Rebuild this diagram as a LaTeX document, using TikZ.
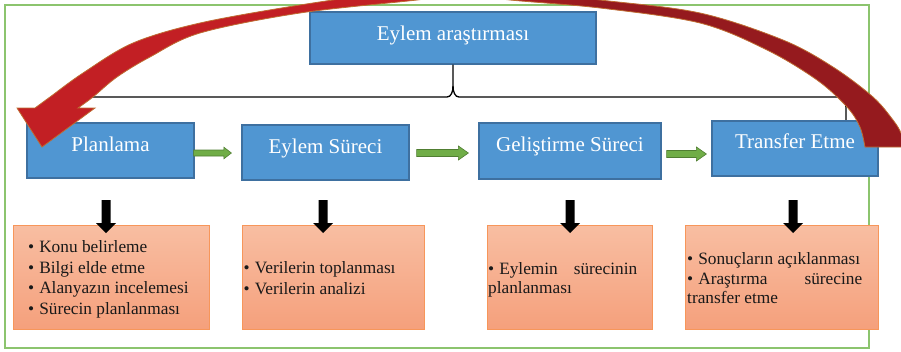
\documentclass[tikz,border=0pt]{standalone}
\usepackage{fontspec}
\setmainfont{Liberation Serif}
\usetikzlibrary{calc}
\definecolor{blueF}{RGB}{80,150,210}
\definecolor{blueD}{RGB}{62,112,160}
\definecolor{frameG}{RGB}{140,196,110}
\definecolor{arrG}{RGB}{112,173,71}
\definecolor{arrGD}{RGB}{80,126,50}
\definecolor{orT}{RGB}{248,190,162}
\definecolor{orB}{RGB}{245,160,124}
\definecolor{orD}{RGB}{247,150,90}
\definecolor{redL}{RGB}{194,31,36}
\definecolor{redR}{RGB}{149,26,30}
\definecolor{redO}{RGB}{190,108,50}
\pgfdeclarehorizontalshading{redband}{100bp}{color(0bp)=(redL); color(47bp)=(redL); color(58bp)=(redR); color(100bp)=(redR)}
\newcommand\garrow[5]{%
  \path[greenarrow] let \p1=#1, \p2=#2 in
   (\x1,\y1+#3) -- (\x2-#5,\y1+#3) -- (\x2-#5,\y1+#4) -- (\x2,\y1)
   -- (\x2-#5,\y1-#4) -- (\x2-#5,\y1-#3) -- (\x1,\y1-#3) -- cycle;}
\newcommand\barrow[1]{%
  \path[blackarrow] let \p1=#1 in
   (\x1-4.5pt,\y1) -- (\x1+4.5pt,\y1) -- (\x1+4.5pt,\y1-23pt) -- (\x1+10pt,\y1-23pt)
   -- (\x1,\y1-33pt) -- (\x1-10pt,\y1-23pt) -- (\x1-4.5pt,\y1-23pt) -- cycle;}
\begin{document}
\begin{tikzpicture}[x=1pt,y=-1pt,
  bluebox/.style={draw=blueD, fill=blueF, line width=1.2pt, inner sep=0pt},
  orbox/.style={draw=orD, top color=orT, bottom color=orB, line width=0.9pt, inner sep=0pt, minimum height=104pt},
  btext/.style={font=\fontsize{21}{25}\selectfont, text=white, inner sep=0pt, anchor=base},
  ltext/.style={font=\fontsize{17.3}{20.7}\selectfont, text=black!90, inner sep=0pt, anchor=base west},
  greenarrow/.style={fill=arrG, draw=arrGD, line width=0.6pt},
  blackarrow/.style={fill=black},
  brace/.style={draw=black, line width=1.3pt}]
\useasboundingbox (0,0) rectangle (901,351);
\draw[frameG, line width=1.5pt] (5,5) rectangle (869,348);

% top box and brace
\node[bluebox, minimum width=286pt, minimum height=52pt] (top) at (453,38) {};
\coordinate (bl) at (85,97);
\coordinate (br) at (846,121);
\coordinate (bt) at (453,86);
\draw[brace] (bl) -- (447,97) .. controls (451,97) and (453,92) .. (bt) -- (top.south);
\draw[brace] (bt) .. controls (453,92) and (455,97) .. (459,97) -- (838,97)
  .. controls (844,97) and (846,101) .. (846,108) -- (br);
\node[btext] (ttop) at (453,40) {Eylem araştırması};

% process boxes
\node[bluebox, minimum width=167pt, minimum height=55pt] (pl) at (110.5,150.5) {};
\node[bluebox, minimum width=167pt, minimum height=55pt] (es) at (325.5,152.5) {};
\node[bluebox, minimum width=182pt, minimum height=56pt] (gs) at (570,151) {};
\node[bluebox, minimum width=166pt, minimum height=55pt] (tr) at (795,148.5) {};
\node[btext] (tpl) at (110.5,151) {Planlama};
\node[btext] (tes) at (325.5,153) {Eylem Süreci};
\node[btext] (tgs) at (570,151) {Geliştirme Süreci};
\node[btext] (ttr) at (795,148) {Transfer Etme};

% green arrows
\coordinate (rowa) at (0,153);
\coordinate (rowb) at (0,154);
\garrow{($(pl.east |- rowa)+(-1,0)$)}{($(es.west |- rowa)+(-10,0)$)}{3pt}{5.8pt}{7.5pt}
\garrow{($(es.east |- rowa)+(7,0)$)}{($(gs.west |- rowa)+(-10,0)$)}{3.5pt}{7pt}{10pt}
\garrow{($(gs.east |- rowb)+(5,0)$)}{($(tr.west |- rowb)+(-5,0)$)}{3.5pt}{7pt}{10pt}

% orange boxes
\node[orbox, minimum width=196pt] (o1) at (111,277) {};
\node[orbox, minimum width=182pt] (o2) at (333,277) {};
\node[orbox, minimum width=165pt] (o3) at (569.5,277) {};
\node[orbox, minimum width=193pt] (o4) at (781.5,277) {};

% black arrows
\coordinate (arow) at (0,200);
\barrow{($(pl.south |- arow)+(-4.5,0)$)}
\barrow{($(es.south |- arow)+(-2.5,0)$)}
\barrow{($(gs.south |- arow)$)}
\barrow{($(tr.south |- arow)+(-2,0)$)}

% list texts
\node[ltext] (l1a) at (28,252) {\textbullet\hspace{5pt}Konu belirleme};
\node[ltext] (l1b) at (28,273) {\textbullet\hspace{5pt}Bilgi elde etme};
\node[ltext] (l1c) at (28,293.5) {\textbullet\hspace{5pt}Alanyazın incelemesi};
\node[ltext] (l1d) at (28,314) {\textbullet\hspace{5pt}Sürecin planlanması};
\node[ltext] (l2a) at (243.5,273) {\textbullet\hspace{5pt}Verilerin toplanması};
\node[ltext] (l2b) at (243.5,294) {\textbullet\hspace{5pt}Verilerin analizi};
\node[ltext] (l3a) at (488,274) {\makebox[149pt][l]{\textbullet\hspace{5pt}Eylemin\hfill sürecinin}};
\node[ltext] (l3b) at (488,293) {planlanması};
\node[ltext] (l4a) at (687,264) {\textbullet\hspace{5pt}Sonuçların açıklanması};
\node[ltext] (l4b) at (687,284) {\makebox[175pt][l]{\textbullet\hspace{5pt}Araştırma\hfill sürecine}};
\node[ltext] (l4c) at (687,303.5) {transfer etme};

% big red curved arrow
\begin{scope}
\clip (0,0) rectangle (901,351);
\shadedraw[shading=redband, draw=redO, line width=0.8pt, line join=miter]
  plot[smooth, tension=0.55] coordinates {(865,147) (860,127) (847,107) (817,80) (767,50) (700,23) (600,8) (510,0) (463,-6) (417,0) (300,13) (200,33) (150,57) (117,77) (93,97) (78,108)}
  -- (95,108) -- (42,147) -- (17,108) -- (35,108)
  -- plot[smooth, tension=0.55] coordinates {(35,108) (50,97) (83,73) (133,43) (200,23) (300,5) (400,-9) (465,-14) (600,0) (700,13) (783,40) (833,67) (873,97) (893,120) (901,133) (905,147)}
  -- cycle;
\end{scope}
\end{tikzpicture}
\end{document}
